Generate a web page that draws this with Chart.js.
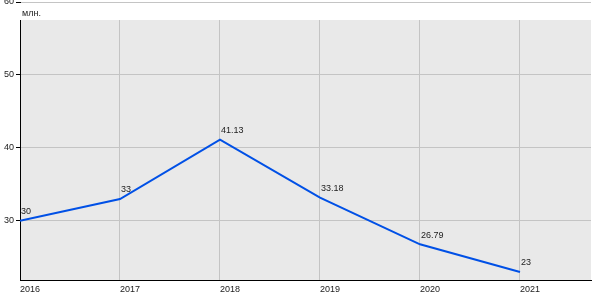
<!DOCTYPE html>
<html>
<head>
<meta charset="utf-8">
<script src="https://cdn.jsdelivr.net/npm/chart.js@4/dist/chart.umd.min.js"></script>
<style>
  html, body { margin: 0; padding: 0; background: #fff; }
  #wrap { width: 600px; height: 300px; }
</style>
</head>
<body>
<div id="wrap"><canvas id="lineChart" width="600" height="300"></canvas></div>
<script>
// Chart data
const years = [2016, 2017, 2018, 2019, 2020, 2021];
const values = [30, 33, 41.13, 33.18, 26.79, 23];
const valueLabels = ['30', '33', '41.13', '33.18', '26.79', '23'];
const yTicks = [30, 40, 50, 60];
const unitLabel = 'млн.';

const FONT = 'Liberation Sans, Arial, sans-serif';

// Gray plot panel + white strip at the top with the unit label
const panelPlugin = {
    id: 'panel',
    beforeDraw(chart) {
        const { ctx, chartArea: a } = chart;
        ctx.save();
        ctx.fillStyle = '#e9e9e9';
        ctx.fillRect(a.left, 20, a.right - a.left, a.bottom - 20);
        ctx.restore();
    },
    beforeDatasetsDraw(chart) {
        const { ctx, chartArea: a } = chart;
        ctx.save();
        ctx.fillStyle = '#ffffff';
        ctx.fillRect(a.left - 1, a.top + 1, a.right - a.left + 2, 20 - a.top - 1);
        ctx.fillStyle = '#222';
        ctx.font = '9px ' + FONT;
        ctx.textAlign = 'left';
        ctx.textBaseline = 'alphabetic';
        ctx.fillText(unitLabel, a.left + 2, 16);
        ctx.restore();
    }
};

// Value labels above each point
const valueLabelPlugin = {
    id: 'valueLabels',
    afterDatasetsDraw(chart) {
        const { ctx } = chart;
        const meta = chart.getDatasetMeta(0);
        ctx.save();
        ctx.fillStyle = '#222';
        ctx.font = '9px ' + FONT;
        ctx.textAlign = 'left';
        ctx.textBaseline = 'middle';
        meta.data.forEach((pt, i) => {
            ctx.fillText(valueLabels[i], pt.x + 1, pt.y - 9);
        });
        ctx.restore();
    }
};

const ctx = document.getElementById('lineChart');

new Chart(ctx, {
    type: 'line',
    data: {
        datasets: [{
            data: years.map((y, i) => ({ x: y, y: values[i] })),
            borderColor: '#0050e6',
            borderWidth: 2,
            pointRadius: 0,
            tension: 0,
            fill: false
        }]
    },
    options: {
        responsive: false,
        animation: false,
        layout: { padding: { left: 0, top: 2, right: 9, bottom: 0 } },
        plugins: {
            legend: { display: false },
            tooltip: { enabled: false }
        },
        scales: {
            x: {
                type: 'linear',
                min: 2016,
                max: 2021.71,
                afterBuildTicks(scale) {
                    scale.ticks = years.map(v => ({ value: v }));
                },
                afterFit(scale) {
                    scale.height = 20;
                    scale.paddingLeft = 0;
                    scale.paddingRight = 0;
                },
                border: { color: '#000', width: 1 },
                grid: {
                    color: '#c4c4c4',
                    tickColor: 'rgba(0,0,0,0)',
                    tickLength: 4
                },
                ticks: {
                    align: 'start',
                    maxRotation: 0,
                    autoSkip: false,
                    padding: 0,
                    color: '#222',
                    font: { family: FONT, size: 9 },
                    callback: v => String(v)
                }
            },
            y: {
                min: 21.9,
                max: 60,
                afterBuildTicks(scale) {
                    scale.ticks = yTicks.map(v => ({ value: v }));
                },
                afterFit(scale) {
                    scale.width = 20;
                    scale.paddingTop = 0;
                    scale.paddingBottom = 0;
                },
                border: { color: '#000', width: 1 },
                grid: {
                    color: '#c4c4c4',
                    tickColor: '#000',
                    tickLength: 4
                },
                ticks: {
                    padding: 2,
                    color: '#222',
                    font: { family: FONT, size: 9 },
                    callback: v => String(v)
                }
            }
        }
    },
    plugins: [panelPlugin, valueLabelPlugin]
});
</script>
</body>
</html>
